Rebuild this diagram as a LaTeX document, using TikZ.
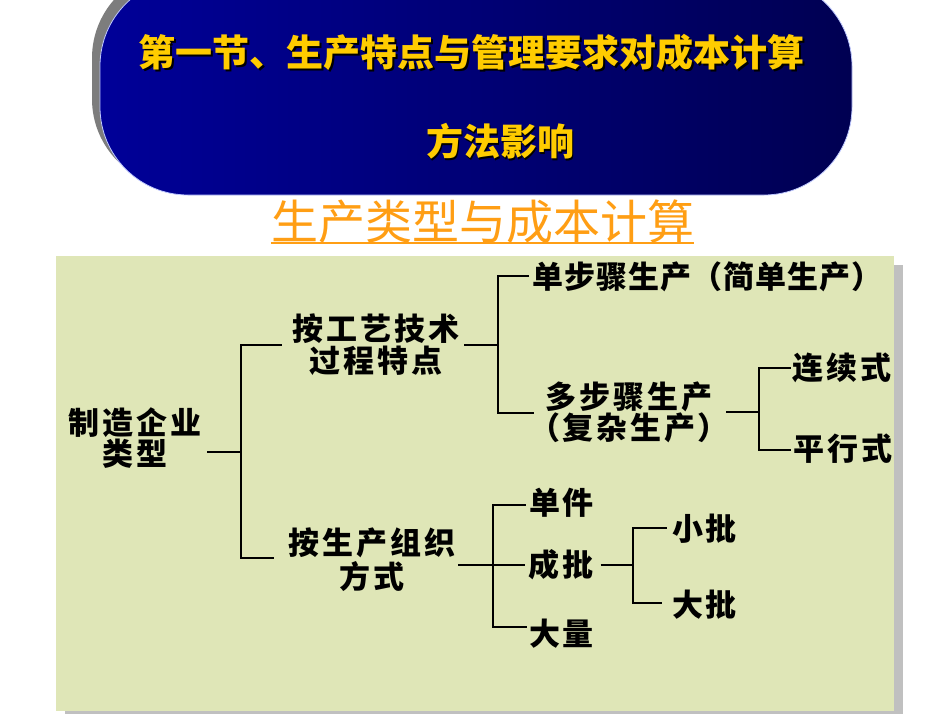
\documentclass[tikz,border=0pt]{standalone}
\usepackage{fontspec}
\newfontfamily\cjk{Noto Sans CJK SC}
\newfontfamily\treefont[LetterSpace=9]{Noto Sans CJK SC}
\newfontfamily\treefontn[LetterSpace=3]{Noto Sans CJK SC}
\usetikzlibrary{calc}
\definecolor{panelbg}{RGB}{223,230,183}
\definecolor{panelshadow}{RGB}{192,192,192}
\definecolor{bannershadow}{RGB}{125,125,125}
\definecolor{navyL}{RGB}{0,0,152}
\definecolor{navyR}{RGB}{0,0,82}
\definecolor{navyedge}{RGB}{190,200,255}
\definecolor{titleyellow}{RGB}{255,204,0}
\definecolor{suborange}{RGB}{255,158,20}
\newcommand\shtxt[1]{\leavevmode\rlap{\kern1.8pt\raisebox{-1.8pt}{\color{black}#1}}#1}
\tikzset{
  tree/.style={font=\treefont\bfseries\fontsize{31}{32}\selectfont, align=center, inner sep=0pt, text=black},
  treen/.style={font=\treefontn\bfseries\fontsize{31}{32}\selectfont, align=center, inner sep=0pt, text=black},
  conn/.style={draw=black, line width=1.8pt},
  titletext/.style={font=\cjk\bfseries\fontsize{37}{40}\selectfont, text=titleyellow, inner sep=0pt},
}
\begin{document}
\begin{tikzpicture}[x=1pt,y=-1pt]
\useasboundingbox (0,0) rectangle (950,713);
\clip (0,0) rectangle (950,713);
\fill[white] (0,0) rectangle (950,713);

% banner
\fill[bannershadow, rounded corners=88pt] (92,-30) rectangle (844,187);
\shade[left color=navyL, right color=navyR, rounded corners=88pt] (100,-22) rectangle (852,195);
\draw[navyedge, line width=0.8pt, rounded corners=88pt] (100,-22) rectangle (852,195);
\node[titletext] (t1) at (471.5,53) {\shtxt{第一节、生产特点与管理要求对成本计算}};
\node[titletext] (t2) at (500,142) {\shtxt{方法影响}};

% subtitle
\node[font=\cjk\fontsize{47}{50}\selectfont, text=suborange, inner sep=0pt] (sub) at (482.5,222) {生产类型与成本计算};
\coordinate (U) at (0,243);
\draw[suborange, line width=2.5pt] (sub.west |- U) -- (sub.east |- U);

% panel
\fill[panelshadow] (65,265) rectangle (903,720);
\fill[panelbg] (56,256) rectangle (894,711);

% tree nodes
\node[tree, font=\treefont\bfseries\fontsize{31}{31}\selectfont] (root) at (135,438.5) {制造企业\\类型};
\node[tree, font=\treefont\bfseries\fontsize{31}{32}\selectfont] (a1) at (376,345) {按工艺技术\\过程特点};
\node[tree, font=\treefont\bfseries\fontsize{31}{34}\selectfont] (a2) at (372,560) {按生产组织\\方式};
\node[treen] (s1) at (707.5,277) {单步骤生产（简单生产）};
\node[tree, font=\treefont\bfseries\fontsize{31}{29}\selectfont] (m) at (629,412) {多步骤生产\\（复杂生产）};
\node[tree] (c1) at (842,368) {连续式};
\node[tree] (c2) at (843,449) {平行式};
\node[tree] (d1) at (561.5,503) {单件};
\node[tree] (d2) at (561,565) {成批};
\node[tree] (d3) at (561.5,634) {大量};
\node[tree] (e1) at (704.5,529) {小批};
\node[tree] (e2) at (704.5,605) {大批};

% junction coordinates
\coordinate (R0) at ([xshift=6pt]root.east);
\coordinate (J0) at (241,452);
\coordinate (J0t) at (241,345);
\coordinate (J0b) at (241,558);
\coordinate (A1w) at ([xshift=-11pt]a1.west);
\coordinate (A2w) at ([xshift=-15pt]a2.west);
\coordinate (A1e) at ([xshift=5pt]a1.east);
\coordinate (J1t) at (498,276);
\coordinate (J1b) at (498,413);
\coordinate (S1w) at ([xshift=-3pt]s1.west);
\coordinate (Mw) at ([xshift=5pt]m.west);
\coordinate (Me) at ([xshift=-3pt]m.east);
\coordinate (J2t) at (759,368);
\coordinate (J2b) at (759,450);
\coordinate (C1w) at ([xshift=-2pt]c1.west);
\coordinate (C2w) at ([xshift=-3pt]c2.west);
\coordinate (A2e) at ([xshift=3pt]a2.east);
\coordinate (J3t) at (493,505);
\coordinate (J3b) at (493,627);
\coordinate (D1w) at ([xshift=-3pt]d1.west);
\coordinate (D2w) at ([xshift=-3pt]d2.west);
\coordinate (D3w) at ([xshift=-2pt]d3.west);
\coordinate (D2e) at ([xshift=7pt]d2.east);
\coordinate (J4t) at (633,528);
\coordinate (J4b) at (633,603);
\coordinate (E1w) at ([xshift=-5pt]e1.west);
\coordinate (E2w) at ([xshift=-10pt]e2.west);

% connectors
\draw[conn] (R0 |- J0) -- (J0);
\draw[conn] (A1w) -- (J0t) -- (J0b) -- (A2w |- J0b);
\draw[conn] (A1e) -- (A1e -| J1t);
\draw[conn] (S1w |- J1t) -- (J1t) -- (J1b) -- (Mw |- J1b);
\draw[conn] (Me) -- (Me -| J2t);
\draw[conn] (C1w |- J2t) -- (J2t) -- (J2b) -- (C2w |- J2b);
\draw[conn] (A2e |- D2w) -- (D2w);
\draw[conn] (D1w |- J3t) -- (J3t) -- (J3b) -- (D3w |- J3b);
\draw[conn] (D2e) -- (D2e -| J4t);
\draw[conn] (E1w |- J4t) -- (J4t) -- (J4b) -- (E2w |- J4b);
\end{tikzpicture}
\end{document}
